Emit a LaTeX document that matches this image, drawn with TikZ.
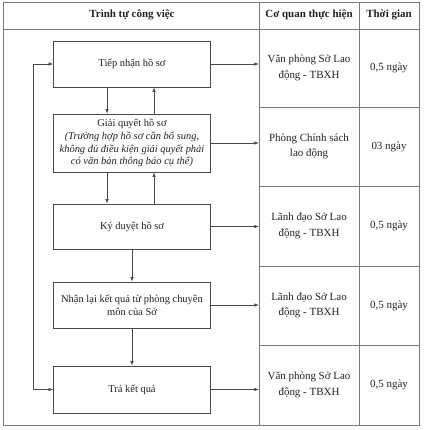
\documentclass[tikz,border=0pt]{standalone}
\usepackage{fontspec}
\setmainfont{Liberation Serif}
\usetikzlibrary{arrows.meta,calc}
\definecolor{gridc}{HTML}{7A7A7A}
\definecolor{boxc}{HTML}{4A4A4A}
\definecolor{txt}{HTML}{222222}
\begin{document}
\begin{tikzpicture}[x=1bp,y=-1bp,
  stepbox/.style={draw=boxc,line width=0.7bp,minimum width=157bp,inner sep=1bp,align=center,font=\fontsize{10.5}{12.8}\selectfont,text=txt},
  cellc/.style={minimum width=100bp,minimum height=79bp,inner sep=0pt,align=center,font=\fontsize{11}{15.5}\selectfont,text=txt},
  timec/.style={minimum width=60bp,minimum height=79bp,inner sep=0pt,align=center,font=\fontsize{11}{15.5}\selectfont,text=txt},
  head/.style={font=\bfseries\fontsize{11}{13}\selectfont,text=txt},
  arr/.style={draw=boxc,line width=0.6bp,-{Latex[length=4.5bp,width=3.5bp]}},
  gl/.style={draw=gridc,line width=0.7bp}]
\useasboundingbox (0,0) rectangle (424,430);
% table grid
\draw[gl] (3,2) rectangle (419,425);
\draw[gl] (3,29) -- (419,29);
\draw[gl] (259,2) -- (259,425);
\draw[gl] (359,2) -- (359,425);
\foreach \y in {107,186,266,345} \draw[gl] (259,\y) -- (419,\y);
% header
\node[head] (h1) at (132,15) {Trình tự công việc};
\node[head] (h2) at (309,15) {Cơ quan thực hiện};
\node[head] (h3) at (389,15) {Thời gian};
% cells
\node[cellc] (c1) at (309,68) {Văn phòng Sở Lao\\động - TBXH};
\node[cellc] (c2) at (309,146.5) {Phòng Chính sách\\lao động};
\node[cellc] (c3) at (309,226) {Lãnh đạo Sở Lao\\động - TBXH};
\node[cellc] (c4) at (309,305.5) {Lãnh đạo Sở Lao\\động - TBXH};
\node[cellc] (c5) at (309,385) {Văn phòng Sở Lao\\động - TBXH};
\node[timec] (t1) at (389,68) {0,5 ngày};
\node[timec] (t2) at (389,146.5) {03 ngày};
\node[timec] (t3) at (389,226) {0,5 ngày};
\node[timec] (t4) at (389,305.5) {0,5 ngày};
\node[timec] (t5) at (389,385) {0,5 ngày};
% boxes
\node[stepbox,minimum height=46bp] (b1) at (132,64) {Tiếp nhận hồ sơ};
\node[stepbox,minimum height=58bp] (b2) at (132,143) {Giải quyết hồ sơ\\\textit{(Trường hợp hồ sơ cần bổ sung,}\\\textit{không đủ điều kiện giải quyết phải}\\\textit{có văn bản thông báo cụ thể)}};
\node[stepbox,minimum height=45bp] (b3) at (132,226.5) {Ký duyệt hồ sơ};
\node[stepbox,minimum height=46bp] (b4) at (132,305) {Nhận lại kết quả từ phòng chuyên\\môn của Sở};
\node[stepbox,minimum height=47bp] (b5) at (132,389.5) {Trả kết quả};
% right arrows
\foreach \i in {1,...,5} \draw[arr] (b\i.east) -- (b\i.east -| c\i.west);
% vertical arrows
\draw[arr] ([xshift=-25bp]b1.south) -- ([xshift=-25bp]b2.north);
\draw[arr] ([xshift=22bp]b2.north) -- ([xshift=22bp]b1.south);
\draw[arr] ([xshift=-25bp]b2.south) -- ([xshift=-25bp]b3.north);
\draw[arr] ([xshift=22bp]b3.north) -- ([xshift=22bp]b2.south);
\draw[arr] (b3.south) -- (b4.north);
\draw[arr] (b4.south) -- (b5.north);
% left loop
\draw[arr,{Latex[length=4.5bp,width=3.5bp]}-{Latex[length=4.5bp,width=3.5bp]}] (b1.west) -- ++(-20,0) |- (b5.west);
\end{tikzpicture}
\end{document}
